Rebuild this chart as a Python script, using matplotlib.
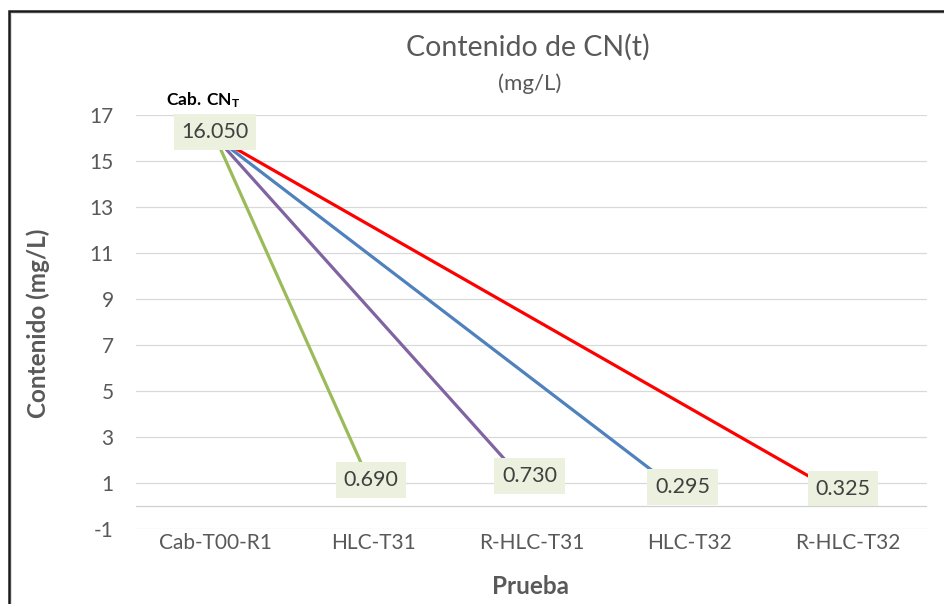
import matplotlib
matplotlib.use("Agg")
import matplotlib.pyplot as plt
from matplotlib import font_manager
from matplotlib.patches import Rectangle

# ---- data ----
categories = ["Cab-T00-R1", "HLC-T31", "R-HLC-T31", "HLC-T32", "R-HLC-T32"]
head_value = 16.050
end_values = [0.690, 0.730, 0.295, 0.325]
line_colors = ["#9BBB59", "#8064A2", "#4F81BD", "#FF0000"]
y_ticks = [-1, 1, 3, 5, 7, 9, 11, 13, 15, 17]

# ---- fonts ----
available = {f.name for f in font_manager.fontManager.ttflist}
base = "Liberation Sans Narrow" if "Liberation Sans Narrow" in available else "Lato"
plt.rcParams["font.family"] = [base, "DejaVu Sans"]
plt.rcParams["mathtext.fontset"] = "custom"
plt.rcParams["mathtext.bf"] = f"{base}:bold"
plt.rcParams["mathtext.rm"] = base

W, H = 944, 604
fig = plt.figure(figsize=(W / 100, H / 100), dpi=100)
fig.patch.set_facecolor("white")

def fx(px):
    return px / W

def fy(py):
    return 1 - py / H

ax = fig.add_axes([fx(136), fy(529), fx(927) - fx(136), fy(115) - fy(529)])
ax.set_facecolor("white")

x = list(range(len(categories)))
ax.set_xlim(-0.5, len(categories) - 0.5)
ax.set_ylim(-1, 17)

# gridlines and horizontal zero axis
for t in y_ticks:
    ax.axhline(t, color="#D9D9D9", lw=0.9, zorder=1)
ax.axhline(0, color="#D0D0D0", lw=0.9, zorder=1)

for s in ax.spines.values():
    s.set_visible(False)

ax.set_yticks(y_ticks)
ax.set_yticklabels([str(t) for t in y_ticks])
ax.set_xticks(x)
ax.set_xticklabels(categories)
ax.tick_params(axis="y", length=0, pad=16, labelsize=15, labelcolor="#595959")
ax.tick_params(axis="x", length=0, pad=3, labelsize=15, labelcolor="#595959")

# one line per test, starting from the head sample
for i, (v, c) in enumerate(zip(end_values, line_colors)):
    ax.plot([x[0], x[i + 1]], [head_value, v], color=c, lw=2.3,
            solid_capstyle="butt", zorder=3)

box = dict(boxstyle="square,pad=0.36", facecolor="#EBF1DE", edgecolor="none")
label_offsets = [(-2, -10), (-2, -13), (-7, -12), (-5, -10)]
ax.annotate(f"{head_value:.3f}", (x[0], head_value), xytext=(0, 5 * 0.72),
            textcoords="offset points", ha="center", va="center",
            fontsize=15.5, color="#404040", bbox=box, zorder=5)
for i, v in enumerate(end_values):
    dx, dy = label_offsets[i]
    ax.annotate(f"{v:.3f}", (x[i + 1], v), xytext=(dx * 0.72, -dy * 0.72),
                textcoords="offset points", ha="center", va="center",
                fontsize=15.5, color="#404040", bbox=box, zorder=5)

# titles and axis titles
fig.text(fx(528), fy(47), "Contenido de CN(t)", ha="center", va="center",
         fontsize=20.5, color="#595959")
fig.text(fx(530), fy(84), "(mg/L)", ha="center", va="center",
         fontsize=16, color="#595959")
fig.text(fx(203), fy(100), r"$\mathbf{Cab.\,CN_T}$", ha="center", va="center",
         fontsize=12.5, color="black")
fig.text(fx(38), fy(323), "Contenido (mg/L)", ha="center", va="center",
         rotation=90, fontsize=17.5, fontweight="bold", color="#595959")
fig.text(fx(531), fy(586), "Prueba", ha="center", va="center",
         fontsize=17.5, fontweight="bold", color="#595959")

# chart frame
fig.patches.append(Rectangle((fx(11), -0.2), 1.2, fy(13) + 0.2,
                             transform=fig.transFigure, fill=False,
                             edgecolor="#D8D8D8", lw=1.2))
fig.patches.append(Rectangle((fx(9), -0.2), 1.2, fy(11) + 0.2,
                             transform=fig.transFigure, fill=False,
                             edgecolor="#1A1A1A", lw=1.8))

fig.savefig("out.png", dpi=100)
